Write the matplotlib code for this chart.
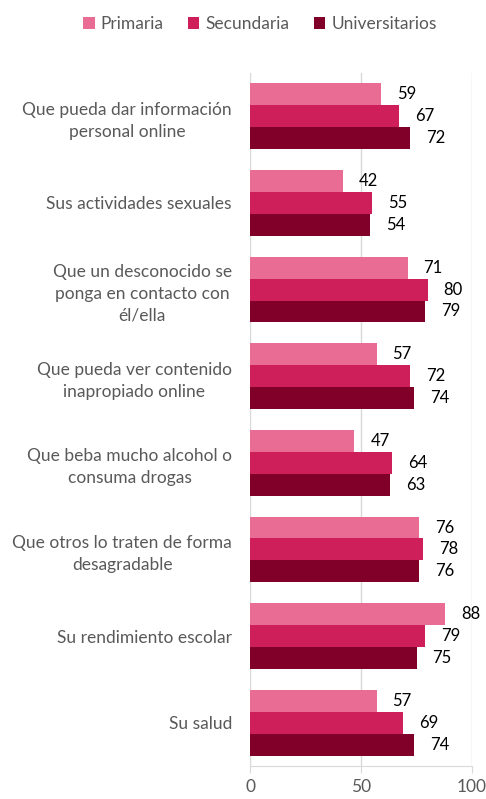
import matplotlib.pyplot as plt
import numpy as np

# Data
categories = [
    "Que pueda dar información\npersonal online",
    "Sus actividades sexuales",
    "Que un desconocido se\nponga en contacto con\nél/ella",
    "Que pueda ver contenido\ninapropiado online",
    "Que beba mucho alcohol o\nconsuma drogas",
    "Que otros lo traten de forma\ndesagradable",
    "Su rendimiento escolar",
    "Su salud",
]
primaria = [59, 42, 71, 57, 47, 76, 88, 57]
secundaria = [67, 55, 80, 72, 64, 78, 79, 69]
universitarios = [72, 54, 79, 74, 63, 76, 75, 74]
series_names = ["Primaria", "Secundaria", "Universitarios"]
colors = ["#E86C94", "#CE1F5A", "#80002A"]

plt.rcParams["font.family"] = ["Lato", "DejaVu Sans"]
text_gray = "#595959"
grid_gray = "#D9D9D9"

fig = plt.figure(figsize=(4.86, 7.99), dpi=100)
ax = fig.add_axes([250 / 486, 1 - 766 / 799, 222 / 486, 693 / 799])

y = np.arange(len(categories))
h = 0.253
for i, (name, vals) in enumerate(zip(series_names, [primaria, secundaria, universitarios])):
    pos = y - h + i * h
    bars = ax.barh(pos, vals, height=h, color=colors[i], label=name, zorder=3)
    for b, v in zip(bars, vals):
        ax.annotate(str(v), (v, b.get_y() + b.get_height() / 2),
                    xytext=(11.5, 0), textcoords="offset points",
                    ha="left", va="center", fontsize=12, color="black")

ax.set_xlim(0, 100)
ax.set_ylim(len(categories) - 0.5, -0.5)
ax.set_xticks([0, 50, 100])
ax.set_yticks(y)
ax.set_yticklabels(categories, multialignment="center", fontsize=12.5, color=text_gray,
                   linespacing=1.45)
ax.tick_params(axis="y", length=0, pad=13)
ax.tick_params(axis="x", length=5, color=grid_gray, labelsize=12.5, labelcolor=text_gray, pad=4)
ax.grid(axis="x", color=grid_gray, linewidth=1, zorder=0)
for s in ["top", "right", "left"]:
    ax.spines[s].set_visible(False)
ax.spines["bottom"].set_color(grid_gray)

fig.legend(loc="center", bbox_to_anchor=(0.535, 1 - 24 / 799), ncol=3, frameon=False,
           fontsize=12.5, labelcolor=text_gray, handlelength=0.65, handleheight=0.65,
           handletextpad=0.35, columnspacing=1.4)

fig.savefig("out.png", dpi=100)
